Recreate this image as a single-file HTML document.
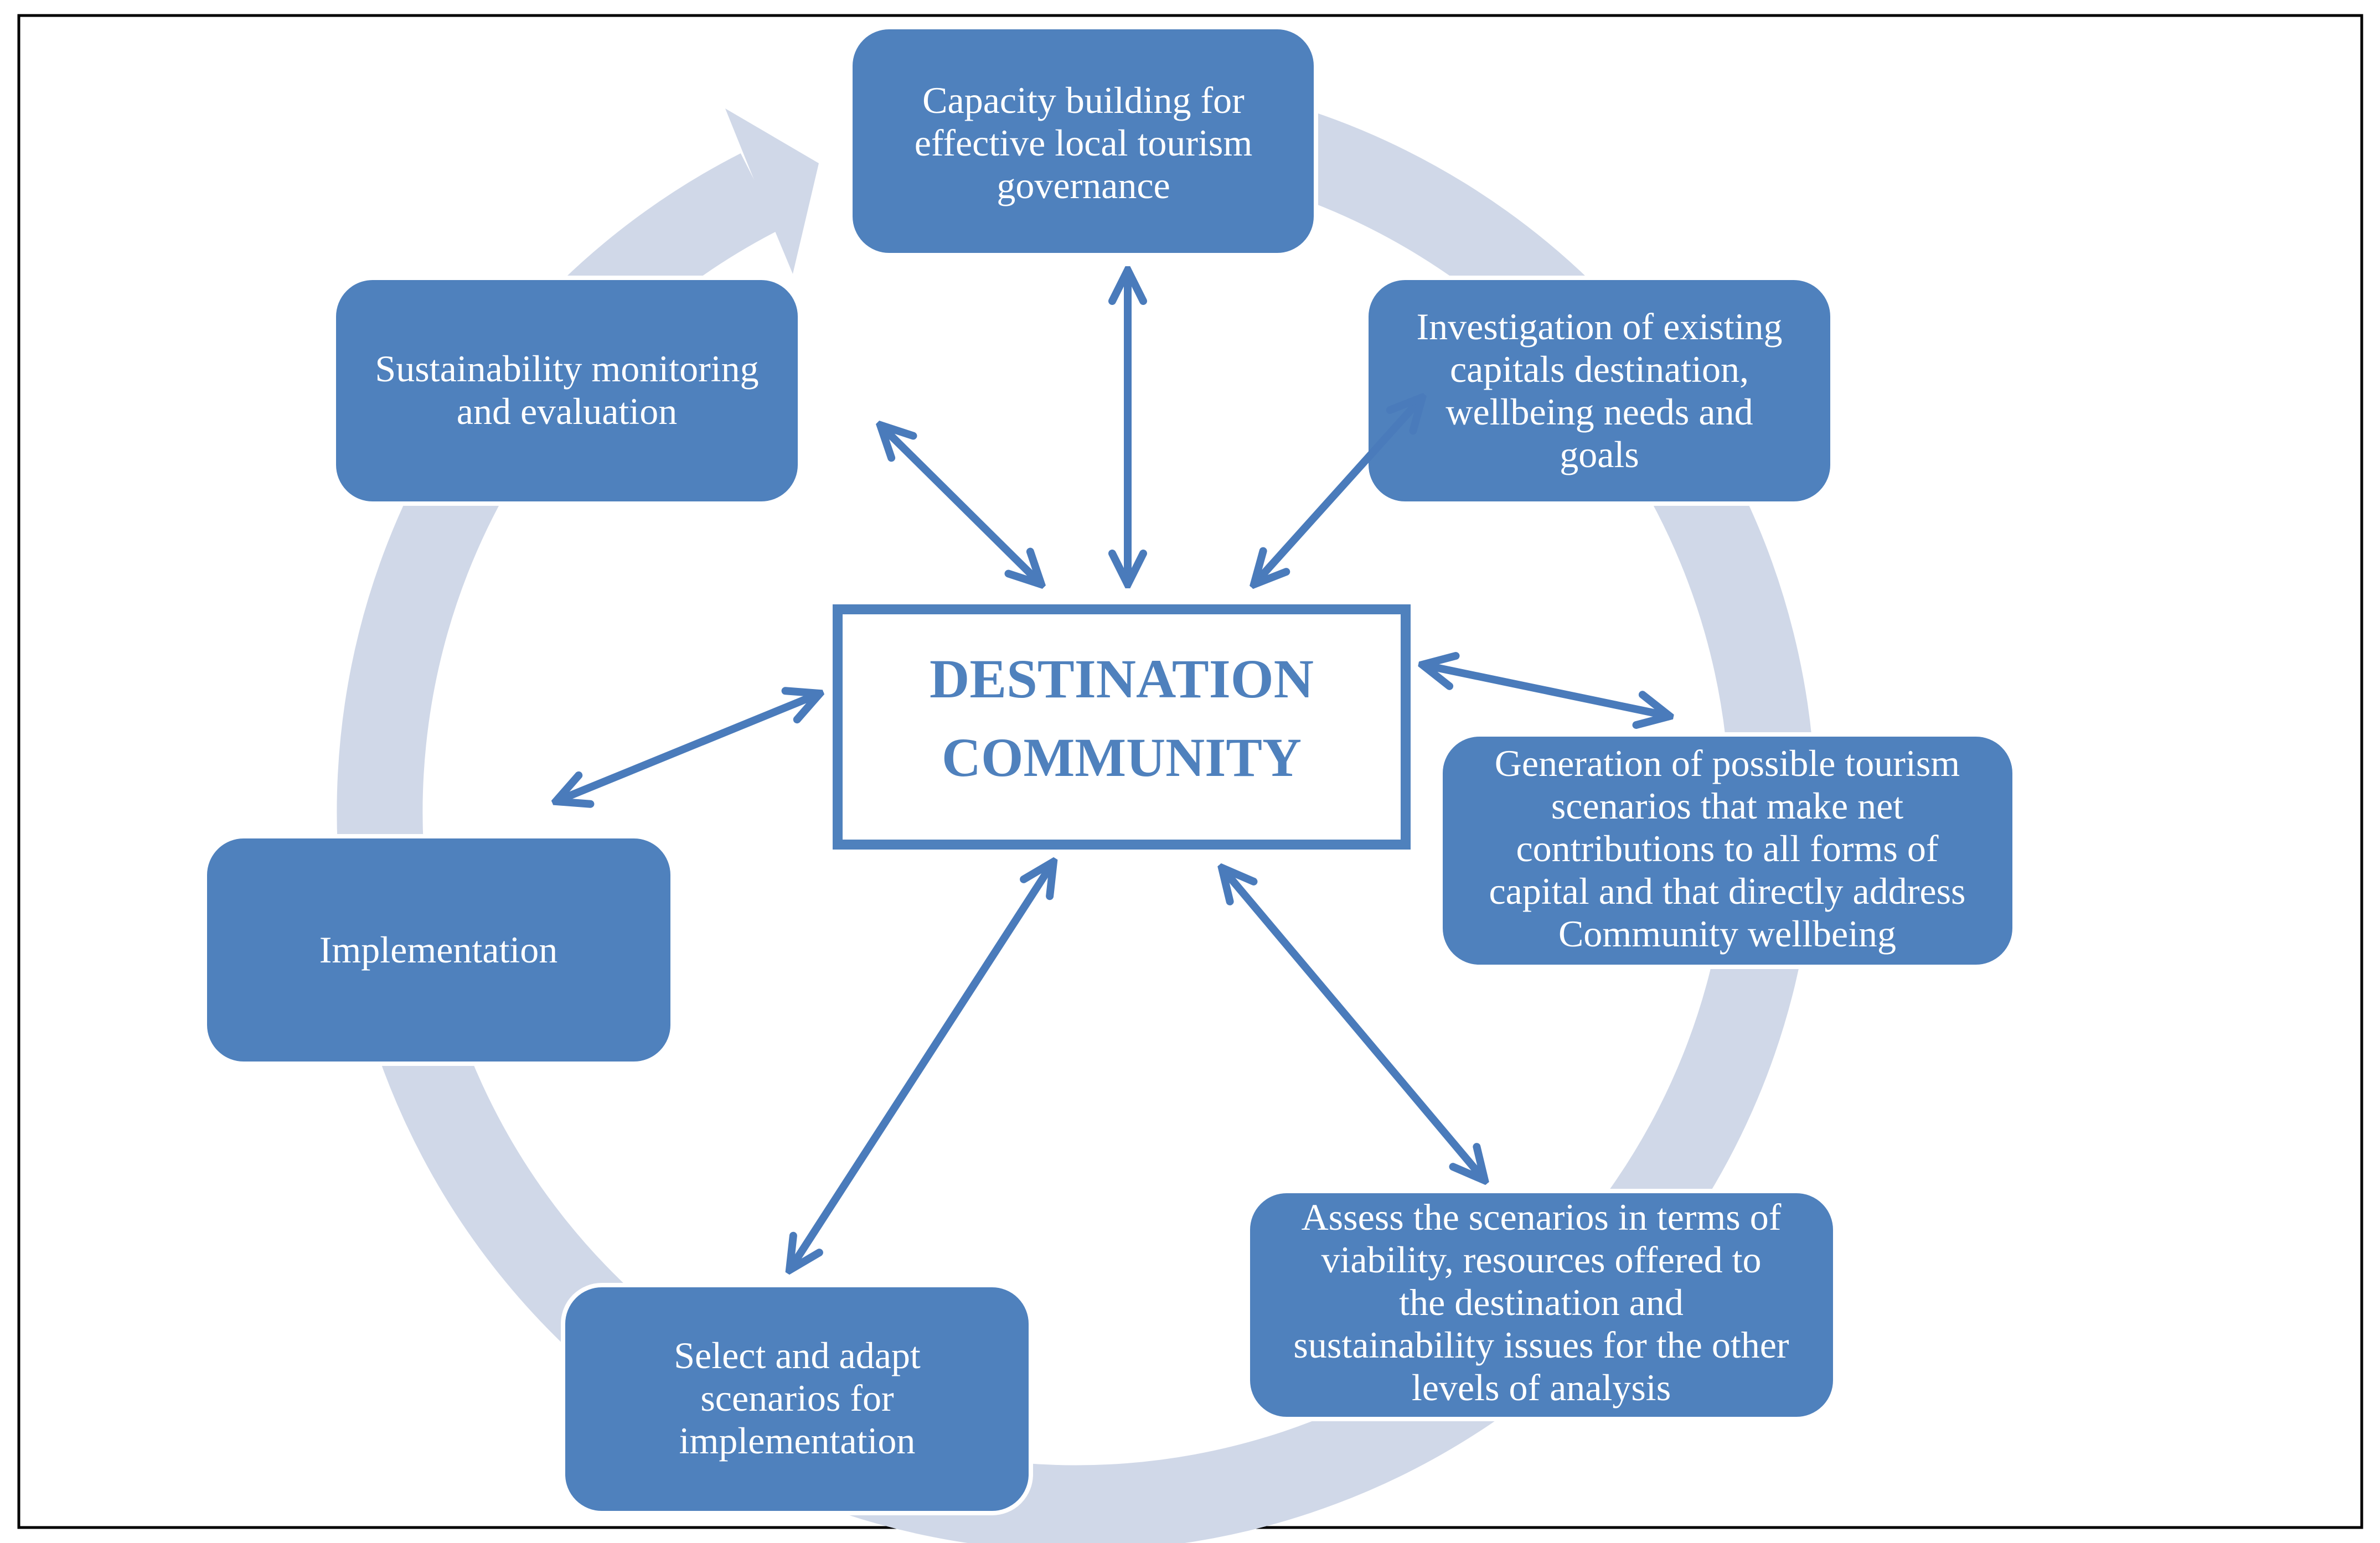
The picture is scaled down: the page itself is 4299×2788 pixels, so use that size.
<!DOCTYPE html>
<html><head><meta charset="utf-8"><style>
html,body{margin:0;padding:0;background:#fff;}
svg{display:block;}
</style></head><body>
<svg width="4299" height="2788" viewBox="0 0 4299 2788" xmlns="http://www.w3.org/2000/svg">
<rect x="0" y="0" width="4299" height="2788" fill="#fff"/>
<rect x="34" y="28" width="4232" height="2732" fill="none" stroke="#000" stroke-width="5"/>
<!-- ring -->
<path d="M1726,228 A1258,1258 0 1 1 1373,346" fill="none" stroke="#d0d8e8" stroke-width="155"/>
<polygon points="1341,273 1310,196 1479,295 1432,495 1400,418" fill="#d0d8e8"/>
<g fill="#4f81bd" stroke="#fff" stroke-width="8">
<rect x="1536" y="49" width="841" height="412" rx="70"/>
<rect x="2468" y="502" width="842" height="408" rx="70"/>
<rect x="2602" y="1327" width="1037" height="420" rx="70"/>
<rect x="2254" y="2152" width="1061" height="412" rx="70"/>
<rect x="1017" y="2322" width="845" height="412" rx="70"/>
<rect x="370" y="1511" width="845" height="411" rx="70"/>
<rect x="603" y="502" width="842" height="408" rx="70"/>
</g>
<rect x="1513" y="1101" width="1026" height="425" fill="#fff" stroke="#4f81bd" stroke-width="18"/>
<g font-family="'Liberation Serif',serif" font-weight="bold" font-size="100" fill="#4f81bd" text-anchor="middle">
<text x="2026" y="1260" textLength="694" lengthAdjust="spacingAndGlyphs">DESTINATION</text>
<text x="2026" y="1402" textLength="650" lengthAdjust="spacingAndGlyphs">COMMUNITY</text>
</g>
<g font-family="'Liberation Serif',serif" font-size="68" fill="#fff" text-anchor="middle">
<text x="1957" y="204">Capacity building for</text>
<text x="1957" y="281">effective local tourism</text>
<text x="1957" y="358">governance</text>
<text x="2889" y="613">Investigation of  existing</text>
<text x="2889" y="690">capitals destination,</text>
<text x="2889" y="767">wellbeing needs and</text>
<text x="2889" y="844">goals</text>
<text x="3120" y="1402">Generation of possible tourism</text>
<text x="3120" y="1479">scenarios that make net</text>
<text x="3120" y="1556">contributions to all forms of</text>
<text x="3120" y="1633">capital and that directly address</text>
<text x="3120" y="1710">Community wellbeing</text>
<text x="2784" y="2222">Assess the scenarios in terms of</text>
<text x="2784" y="2299">viability, resources offered to</text>
<text x="2784" y="2376">the destination  and</text>
<text x="2784" y="2453">sustainability issues for the other</text>
<text x="2784" y="2530">levels of analysis</text>
<text x="1440" y="2472">Select and adapt</text>
<text x="1440" y="2549">scenarios for</text>
<text x="1440" y="2626">implementation</text>
<text x="792" y="1739">Implementation</text>
<text x="1024" y="689">Sustainability monitoring</text>
<text x="1024" y="766">and evaluation</text>
</g>
<defs>
<marker id="h" viewBox="0 0 10 10" refX="9" refY="5" markerWidth="5" markerHeight="5" orient="auto-start-reverse" markerUnits="strokeWidth">
<path d="M1,1 L9,5 L1,9" fill="none" stroke="#4a7bbb" stroke-width="2" stroke-linecap="round" stroke-linejoin="miter"/>
</marker>
</defs>
<g stroke="#4a7bbb" stroke-width="14" fill="none" marker-start="url(#h)" marker-end="url(#h)">
<line x1="2037" y1="488" x2="2037" y2="1056"/>
<line x1="1590" y1="768" x2="1881" y2="1056"/>
<line x1="2569" y1="718" x2="2265" y2="1056"/>
<line x1="2569" y1="1201" x2="3016" y2="1294"/>
<line x1="1481" y1="1253" x2="1004" y2="1448"/>
<line x1="1903" y1="1557" x2="1426" y2="2295"/>
<line x1="2207" y1="1568" x2="2682" y2="2133"/>
</g>
</svg>
</body></html>
